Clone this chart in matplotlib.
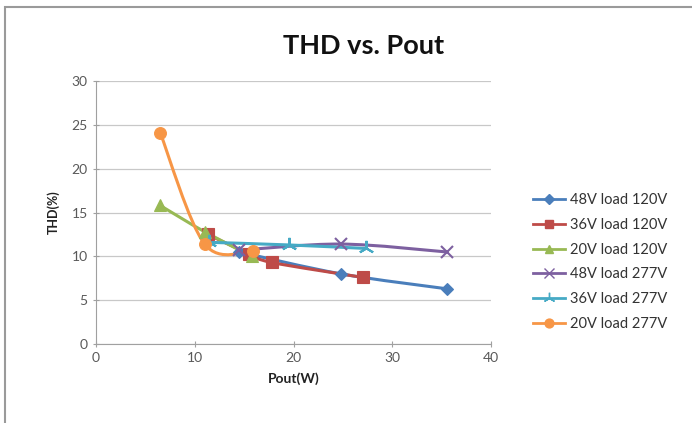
import matplotlib
matplotlib.use("Agg")
import matplotlib.pyplot as plt
import numpy as np
from matplotlib.path import Path
from matplotlib.patches import PathPatch, Rectangle
from matplotlib.lines import Line2D

plt.rcParams['font.family'] = ['Lato', 'DejaVu Sans']

# data
labels = ["48V load 120V", "36V load 120V", "20V load 120V",
          "48V load 277V", "36V load 277V", "20V load 277V"]
pout_48_120 = [14.5, 24.8, 35.5]
thd_48_120 = [10.5, 8.0, 6.3]
pout_36_120 = [11.3, 15.5, 17.8, 27.0]
thd_36_120 = [12.5, 10.3, 9.3, 7.6]
pout_20_120 = [6.5, 11.0, 15.8]
thd_20_120 = [15.8, 12.8, 10.0]
pout_48_277 = [14.5, 24.8, 35.5]
thd_48_277 = [10.7, 11.4, 10.5]
pout_36_277 = [11.4, 19.5, 27.3]
thd_36_277 = [11.6, 11.3, 10.9]
pout_20_277 = [6.5, 11.0, 15.9]
thd_20_277 = [24.1, 11.4, 10.6]

series_x = [pout_48_120, pout_36_120, pout_20_120, pout_48_277, pout_36_277, pout_20_277]
series_y = [thd_48_120, thd_36_120, thd_20_120, thd_48_277, thd_36_277, thd_20_277]
colors = ["#4A7EBB", "#BE4B48", "#98B954", "#7D60A0", "#46AAC5", "#F79646"]
markers = ["D", "s", "^", "x", (3, 2, 0), "o"]
msizes = [6.5, 8, 8.5, 9, 11, 8.5]


def smooth_path(xs, ys):
    # Excel-style smoothed line: cubic bezier segments through the points
    pts = np.column_stack([xs, ys]).astype(float)
    n = len(pts)
    verts = [pts[0]]
    codes = [Path.MOVETO]
    for i in range(n - 1):
        p0 = pts[i - 1] if i > 0 else pts[i]
        p1 = pts[i]
        p2 = pts[i + 1]
        p3 = pts[i + 2] if i + 2 < n else pts[i + 1]
        c1 = p1 + (p2 - p0) / 6.0
        c2 = p2 - (p3 - p1) / 6.0
        verts += [c1, c2, p2]
        codes += [Path.CURVE4] * 3
    return Path(verts, codes)


fig = plt.figure(figsize=(6.92, 4.23), dpi=100)
fig.patches.append(Rectangle((5 / 692, -0.05), 1.1, 1 - 7 / 423 + 0.05,
                             transform=fig.transFigure, fill=False,
                             edgecolor="#9a9a9a", linewidth=1.5))
ax = fig.add_axes([96 / 692, 1 - 344 / 423, 395 / 692, 263 / 423])

for xs, ys, c, m, ms in zip(series_x, series_y, colors, markers, msizes):
    ax.add_patch(PathPatch(smooth_path(xs, ys), facecolor="none",
                           edgecolor=c, linewidth=2.2, zorder=2))
    ax.plot(xs, ys, linestyle="none", marker=m, color=c, markersize=ms,
            markeredgewidth=1.5 if m in ("x", (3, 2, 0)) else 0.8, zorder=3)

ax.set_xlim(0, 40)
ax.set_ylim(0, 30)
ax.set_xticks(range(0, 41, 10))
ax.set_yticks(range(0, 31, 5))
ax.grid(axis="y", color="#c8c8c8", linewidth=0.9)
ax.set_axisbelow(True)
for s in ["top", "right"]:
    ax.spines[s].set_visible(False)
for s in ["left", "bottom"]:
    ax.spines[s].set_color("#a0a0a0")
ax.tick_params(colors="#a0a0a0", labelcolor="#595959", labelsize=10,
               direction="inout", length=5)

ax.set_xlabel("Pout(W)", fontsize=10, fontweight="bold", color="#222222", labelpad=6)
ax.set_ylabel("THD(%)", fontsize=9, fontweight="bold", color="#222222", labelpad=8)
fig.text(364 / 692, 1 - 46 / 423, "THD vs. Pout", fontsize=19.5, fontweight="bold",
         ha="center", va="center", color="#111111")

handles = [Line2D([0], [0], color=c, marker=m, markersize=ms * 0.75, linewidth=2)
           for c, m, ms in zip(colors, markers, msizes)]
fig.legend(handles, labels, loc="upper left", bbox_to_anchor=(520 / 692, 1 - 180 / 423),
           frameon=False, fontsize=10.5, handlelength=2.2, labelspacing=0.74,
           handletextpad=0.3, labelcolor="#333333")

fig.savefig("out.png", dpi=100)
